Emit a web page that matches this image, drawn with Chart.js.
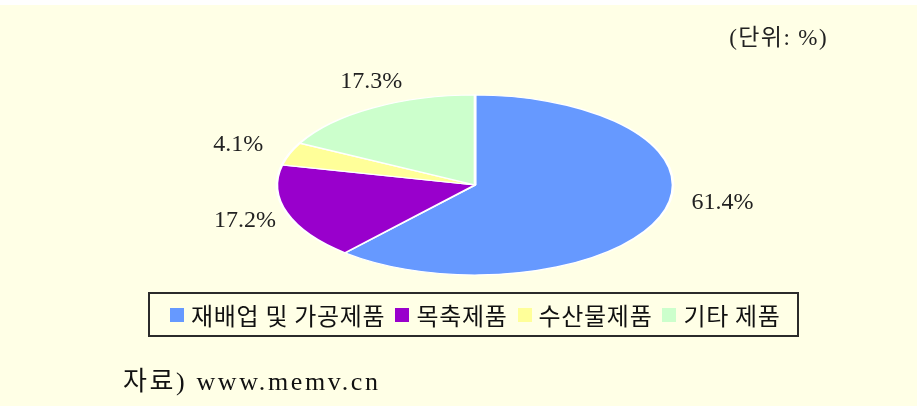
<!DOCTYPE html>
<html>
<head>
<meta charset="utf-8">
<script src="https://cdn.jsdelivr.net/npm/chart.js@4/dist/chart.umd.min.js"></script>
<style>
  html, body { margin: 0; padding: 0; }
  body { width: 917px; height: 406px; background: #FFFFE6; position: relative; overflow: hidden; }
  #topStrip { position: absolute; left: 0; top: 0; width: 917px; height: 5px; background: #fff; }
  #pie { position: absolute; left: 0; top: 0; }
  #unit { position: absolute; right: 89px; top: 18px; font: 23px "Liberation Serif", "Noto Sans CJK KR", serif; color: #222; letter-spacing: 1.4px; }
  #legend {
    position: absolute; left: 148px; top: 292px; width: 627px; height: 41px;
    border: 2px solid #2b2b2b; display: flex; align-items: center; padding-left: 20px; box-sizing: content-box;
    font: 24px "Noto Sans CJK KR", sans-serif; color: #111; letter-spacing: 0.7px; white-space: nowrap;
  }
  #legend .item { display: flex; align-items: center; margin-right: 10px; }
  #legend .box { width: 14px; height: 14px; margin-right: 7px; }
  #source { position: absolute; left: 123px; top: 360px; font: 26px "Liberation Serif", "Noto Sans CJK KR", serif; color: #111; letter-spacing: 2.6px; }
</style>
</head>
<body>
<div id="topStrip"></div>
<canvas id="pie" width="917" height="406"></canvas>
<div id="unit"></div>
<div id="legend"></div>
<div id="source"></div>
<script>
const categories = ['재배업 및 가공제품', '목축제품', '수산물제품', '기타 제품'];
const shares = [61.4, 17.2, 4.1, 17.3];
const sliceColors = ['#6699FF', '#9900CC', '#FFFF99', '#CCFFCC'];
const unitText = '(단위: %)';
const sourceText = '자료) www.memv.cn';

// on-screen ellipse radii and label ring
const RX = 198, RY = 90;
const LABEL_RX = 245, LABEL_RY = 115;
const labelNudge = [[18, -23], [3, 0], [-7, 0], [23, -5]];

document.getElementById('unit').textContent = unitText;
document.getElementById('source').textContent = sourceText;
document.getElementById('legend').innerHTML = categories.map((c, i) => `
  <span class="item"><span class="box" style="background:${sliceColors[i]}"></span>${c}</span>
`).join('');

// squash the round pie into the flat ellipse of the original
const ellipsePie = {
  id: 'ellipsePie',
  beforeDatasetsDraw(chart) {
    const arc = chart.getDatasetMeta(0).data[0];
    const ctx = chart.ctx;
    ctx.save();
    ctx.translate(arc.x, arc.y);
    ctx.scale(RX / arc.outerRadius, RY / arc.outerRadius);
    ctx.translate(-arc.x, -arc.y);
  },
  afterDatasetsDraw(chart) {
    const ctx = chart.ctx;
    ctx.restore();
    const arcs = chart.getDatasetMeta(0).data;
    ctx.save();
    ctx.font = '24px "Liberation Serif"';
    ctx.fillStyle = '#222';
    ctx.textAlign = 'center';
    ctx.textBaseline = 'middle';
    arcs.forEach((arc, i) => {
      const mid = (arc.startAngle + arc.endAngle) / 2;
      const x = arc.x + LABEL_RX * Math.cos(mid) + labelNudge[i][0];
      const y = arc.y + LABEL_RY * Math.sin(mid) + labelNudge[i][1];
      ctx.fillText(shares[i].toFixed(1) + '%', x, y);
    });
    ctx.restore();
  }
};

new Chart(document.getElementById('pie').getContext('2d'), {
  type: 'pie',
  data: {
    labels: categories,
    datasets: [{
      data: shares,
      backgroundColor: sliceColors,
      borderColor: '#ffffff',
      borderWidth: 2.5
    }]
  },
  options: {
    responsive: false,
    animation: false,
    events: [],
    layout: { padding: { left: 33, right: 0, top: 0, bottom: 36 } },
    plugins: {
      legend: { display: false },
      tooltip: { enabled: false }
    }
  },
  plugins: [ellipsePie]
});
</script>
</body>
</html>
